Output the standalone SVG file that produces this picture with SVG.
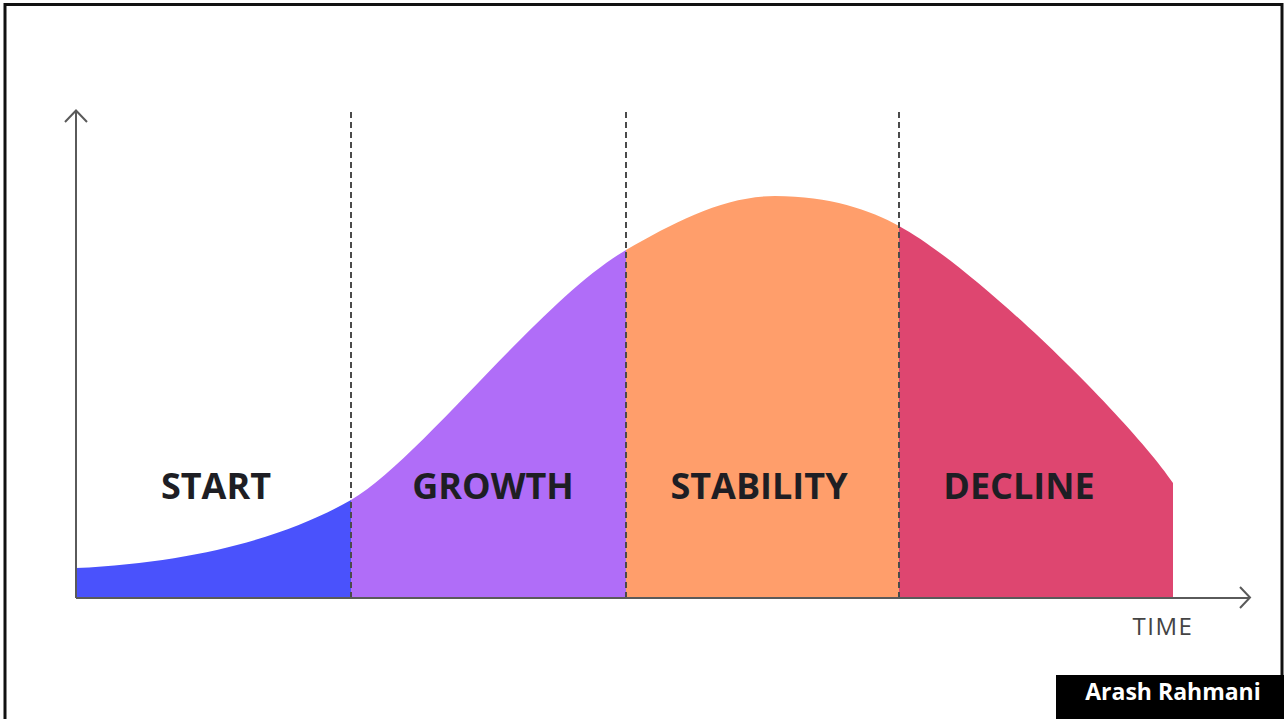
<svg xmlns="http://www.w3.org/2000/svg" width="1284" height="719" viewBox="0 0 1284 719">
<style>
.phase-label{font-family:"Open Sans","Liberation Sans",sans-serif;font-weight:700;font-size:36px;fill:#1e1e24;text-anchor:middle}
.axis{stroke:#5a5a5a;stroke-width:2;fill:none}
.divider{stroke:#4a4a4a;stroke-width:2;stroke-dasharray:6 4;fill:none}
</style>
<defs>
<clipPath id="areaClip">
<path d="M76,598 V568 C200,562 290,535 351,500 C420,460 540,300 626,250 C676,221 725,196 775,196 C830,196 870,210 899,226 C979,270 1130,420 1173,483 V598 Z"/>
</clipPath>
</defs>
<rect width="1284" height="719" fill="#ffffff"/>
<path d="M5,719 V4.5 H1282 V719" fill="none" stroke="#111" stroke-width="3"/>
<g id="areas" clip-path="url(#areaClip)">
<rect id="start-area" x="76" y="150" width="275" height="448" fill="#4a52fc"/>
<rect id="growth-area" x="351" y="150" width="275" height="448" fill="#b06df8"/>
<rect id="stability-area" x="626" y="150" width="273" height="448" fill="#ff9e6b"/>
<rect id="decline-area" x="899" y="150" width="274" height="448" fill="#de4670"/>
</g>
<g id="connectors">
<path class="divider" d="M351,112 V598"/>
<path class="divider" d="M626,112 V598"/>
<path class="divider" d="M899,112 V598"/>
<path class="axis" d="M76,598 V111"/>
<path class="axis" d="M65,122 L76,110.5 L87,122"/>
<path class="axis" d="M76,598 H1249"/>
<path class="axis" d="M1240,587 L1250,597.5 L1240,608"/>
</g>
<g id="start"><text class="phase-label" x="216" y="499">START</text></g>
<g id="growth"><text class="phase-label" x="493" y="499">GROWTH</text></g>
<g id="stability"><text class="phase-label" x="759" y="499">STABILITY</text></g>
<g id="decline"><text class="phase-label" x="1019" y="499">DECLINE</text></g>
<g id="time-label"><text x="1163" y="635" font-family="'Open Sans','Liberation Sans',sans-serif" font-size="24" letter-spacing="1.5" fill="#444" text-anchor="middle">TIME</text></g>
<g id="credit">
<rect x="1056" y="675" width="228" height="44" fill="#000"/>
<text x="1173" y="700" font-family="'Open Sans','Liberation Sans',sans-serif" font-weight="700" font-size="23" fill="#fff" text-anchor="middle">Arash Rahmani</text>
</g>
</svg>
